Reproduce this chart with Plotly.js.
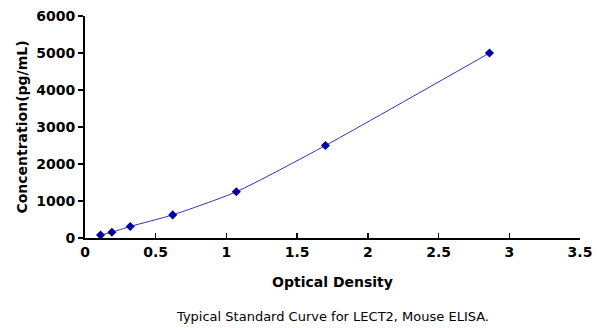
<!DOCTYPE html>
<html><head><meta charset="utf-8">
<script src="https://cdn.plot.ly/plotly-3.0.1.min.js"></script>
<style>body{margin:0;background:#fff}#c{width:600px;height:328px}</style>
</head><body><div id="c"></div>
<script>
const od = [0.11, 0.19, 0.32, 0.62, 1.07, 1.70, 2.86];
const conc = [78, 156, 312, 625, 1250, 2500, 5000];
const xTicks = [0, 0.5, 1, 1.5, 2, 2.5, 3, 3.5];
const xTickLabels = ['0', '0.5', '1', '1.5', '2', '2.5', '3', '3.5'];
const yTicks = [0, 1000, 2000, 3000, 4000, 5000, 6000];
const caption = 'Typical Standard Curve for LECT2, Mouse ELISA.';

const font = 'DejaVu Sans, sans-serif';
Plotly.newPlot('c', [{
  x: od, y: conc, type: 'scatter', mode: 'lines+markers',
  line: {color: '#3030c0', width: 1, shape: 'spline', smoothing: 0.6},
  marker: {symbol: 'diamond', size: 7, color: '#0000a0'},
  showlegend: false
}], {
  width: 600, height: 328,
  margin: {l: 85, r: 20, t: 16, b: 90},
  paper_bgcolor: '#fff', plot_bgcolor: '#fff',
  font: {family: font, color: '#000'},
  xaxis: {
    range: [0, 3.5], tickvals: xTicks, ticktext: xTickLabels,
    showgrid: false, zeroline: false, showline: true, linecolor: '#000', linewidth: 2,
    ticks: 'inside', ticklen: 5, tickwidth: 1.5, tickcolor: '#000',
    tickfont: {family: font, size: 14, color: '#000', weight: 'bold'},
    title: {text: '<b>Optical Density</b>', font: {family: font, size: 14, color: '#000'}, standoff: 18}
  },
  yaxis: {
    range: [0, 6000], tickvals: yTicks,
    showgrid: false, zeroline: false, showline: true, linecolor: '#000', linewidth: 2,
    ticks: 'outside', ticklen: 5, tickwidth: 1.5, tickcolor: '#000',
    tickfont: {family: font, size: 14, color: '#000', weight: 'bold'},
    title: {text: '<b>Concentration(pg/mL)</b>', font: {family: font, size: 14, color: '#000'}, standoff: 5}
  },
  annotations: [{
    text: caption, xref: 'paper', yref: 'paper', x: 0.5, y: 0,
    xanchor: 'center', yanchor: 'middle', yshift: -78, showarrow: false,
    font: {family: font, size: 13, color: '#000'}
  }]
}, {displayModeBar: false, staticPlot: true});
</script></body></html>
